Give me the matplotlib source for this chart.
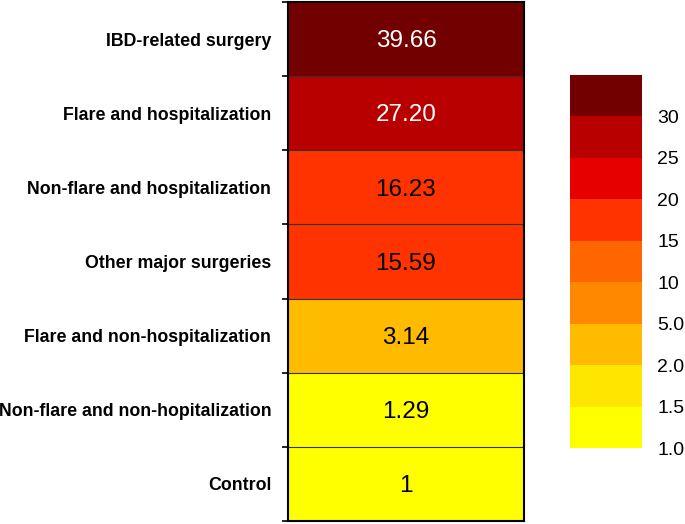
import matplotlib
matplotlib.use("Agg")
import matplotlib.pyplot as plt
import numpy as np
from matplotlib.colors import ListedColormap, BoundaryNorm

plt.rcParams['font.family'] = ['Liberation Sans', 'DejaVu Sans']

# data, top to bottom
categories = ["IBD-related surgery", "Flare and hospitalization",
              "Non-flare and hospitalization", "Other major surgeries",
              "Flare and non-hospitalization", "Non-flare and non-hopitalization",
              "Control"]
values = [39.66, 27.20, 16.23, 15.59, 3.14, 1.29, 1]
value_text = ["39.66", "27.20", "16.23", "15.59", "3.14", "1.29", "1"]

# colour scale bins (bottom to top)
bounds = [1.0, 1.5, 2.0, 5.0, 10, 15, 20, 25, 30, 40]
bound_labels = ["1.0", "1.5", "2.0", "5.0", "10", "15", "20", "25", "30"]
bin_colors = ["#FFFF00", "#FFE600", "#FFBB00", "#FF8800", "#FF6600",
              "#FF3300", "#E60000", "#B80000", "#720000"]

cmap = ListedColormap(bin_colors)
norm = BoundaryNorm(bounds, cmap.N)

fig = plt.figure(figsize=(6.85, 5.24), dpi=100)
ax = fig.add_axes([0.4204, 0.0057, 0.3445, 0.9905])

n = len(values)
grid = np.array(values).reshape(-1, 1)
ax.pcolormesh([0, 1], np.arange(n + 1), grid, cmap=cmap, norm=norm)
ax.set_xlim(0, 1)
ax.set_ylim(n, 0)

for i in range(1, n):
    ax.axhline(i, color="#333333", lw=0.8)

for i, (v, t) in enumerate(zip(values, value_text)):
    col = "white" if v > 25 else "black"
    ax.text(0.5, i + 0.53, t, ha="center", va="center", fontsize=17.5, color=col)

ax.set_xticks([])
ax.set_yticks(np.arange(n + 1))
ax.set_yticklabels([])
ax.set_yticks(np.arange(n) + 0.5, minor=True)
ax.set_yticklabels(categories, minor=True, fontweight="bold", fontsize=12.8)
ax.tick_params(axis="y", which="major", length=4.5, width=1.2, direction="out")
ax.tick_params(axis="y", which="minor", length=0, pad=12)
for s in ax.spines.values():
    s.set_linewidth(1.5)

# colour bar
cax = fig.add_axes([0.832, 0.145, 0.105, 0.712])
sm = matplotlib.cm.ScalarMappable(cmap=cmap, norm=norm)
cb = fig.colorbar(sm, cax=cax, boundaries=bounds, spacing="uniform")
cb.set_ticks(bounds[:-1])
cb.set_ticklabels(bound_labels)
cb.outline.set_visible(False)
cax.minorticks_off()
cax.tick_params(which="both", length=0, labelsize=14, pad=11)

fig.savefig("out.png", dpi=100)
